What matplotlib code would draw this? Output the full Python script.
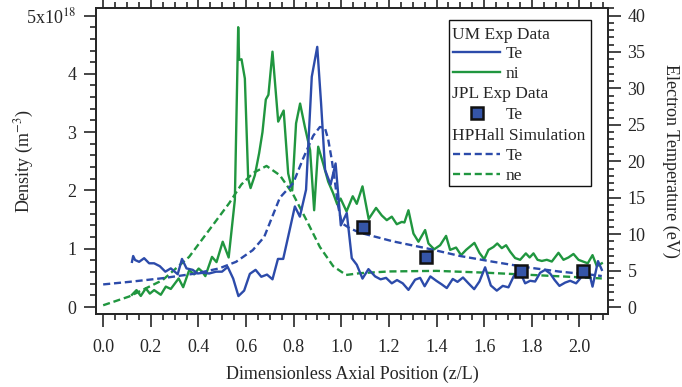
import matplotlib
matplotlib.use("Agg")
import matplotlib.pyplot as plt
from matplotlib.lines import Line2D
from matplotlib.patches import Rectangle
from matplotlib.ticker import MultipleLocator, FuncFormatter

plt.rcParams['font.family'] = ['Liberation Serif', 'DejaVu Serif']
plt.rcParams['mathtext.fontset'] = 'stix'

# UM experimental data: electron temperature (eV)
um_te_x = [0.121, 0.126, 0.134, 0.151, 0.172, 0.193, 0.214, 0.238, 0.261, 0.284,
           0.313, 0.331, 0.350, 0.376, 0.397, 0.419, 0.445, 0.474, 0.499, 0.523,
           0.546, 0.568, 0.592, 0.616, 0.640, 0.664, 0.688, 0.711, 0.734, 0.756,
           0.782, 0.805, 0.826, 0.852, 0.876, 0.899, 0.915, 0.932, 0.955, 0.976,
           0.998, 1.023, 1.044, 1.065, 1.089, 1.114, 1.142, 1.165, 1.188, 1.212,
           1.234, 1.258, 1.282, 1.310, 1.331, 1.350, 1.374, 1.399, 1.422, 1.443,
           1.468, 1.488, 1.511, 1.534, 1.558, 1.580, 1.604, 1.628, 1.653, 1.678,
           1.702, 1.723, 1.745, 1.772, 1.793, 1.814, 1.835, 1.856, 1.877, 1.896,
           1.916, 1.940, 1.961, 1.986, 2.003, 2.017, 2.035, 2.055, 2.078, 2.094]
um_te = [6.2, 7.0, 6.45, 6.2, 6.7, 6.0, 6.0, 5.6, 4.85, 5.3,
         4.5, 6.6, 5.3, 5.1, 4.6, 4.7, 4.6, 4.85, 4.85, 5.5,
         3.9, 1.5, 2.25, 4.55, 5.1, 4.15, 4.45, 3.8, 6.6, 6.6,
         10.4, 13.8, 12.4, 16.1, 31.6, 35.7, 28.0, 18.8, 16.8, 19.7,
         11.2, 12.9, 6.7, 5.8, 3.9, 5.2, 4.2, 3.8, 4.0, 3.25,
         3.7, 3.25, 2.35, 3.75, 4.0, 2.85, 4.2, 3.6, 3.1, 2.6,
         3.85, 3.45, 4.05, 3.25, 2.45, 3.5, 5.45, 2.95, 2.25, 2.9,
         2.7, 4.15, 5.2, 3.25, 3.6, 3.5, 4.7, 5.1, 4.6, 3.7,
         2.9, 3.35, 3.6, 3.25, 3.9, 4.9, 5.5, 2.8, 6.3, 5.1]

# UM experimental data: ion density (1e18 m^-3)
um_ni_x = [0.121, 0.140, 0.158, 0.179, 0.196, 0.214, 0.242, 0.263, 0.284, 0.317,
           0.336, 0.361, 0.382, 0.401, 0.415, 0.429, 0.457, 0.476, 0.502, 0.527,
           0.553, 0.567, 0.571, 0.581, 0.595, 0.609, 0.619, 0.637, 0.655, 0.669,
           0.683, 0.694, 0.711, 0.735, 0.758, 0.777, 0.794, 0.810, 0.827, 0.847,
           0.869, 0.886, 0.903, 0.924, 0.945, 0.966, 0.983, 0.997, 1.022, 1.048,
           1.065, 1.089, 1.115, 1.146, 1.170, 1.191, 1.212, 1.233, 1.254, 1.265,
           1.282, 1.303, 1.324, 1.352, 1.366, 1.390, 1.415, 1.440, 1.457, 1.482,
           1.503, 1.524, 1.559, 1.580, 1.600, 1.618, 1.639, 1.655, 1.674, 1.692,
           1.709, 1.730, 1.751, 1.775, 1.791, 1.807, 1.824, 1.842, 1.863, 1.884,
           1.912, 1.933, 1.954, 1.975, 1.996, 2.015, 2.035, 2.055, 2.073, 2.094]
um_ni = [0.21, 0.29, 0.19, 0.32, 0.23, 0.29, 0.21, 0.35, 0.31, 0.49,
         0.34, 0.63, 0.56, 0.66, 0.61, 0.53, 0.86, 0.77, 1.12, 0.85,
         1.84, 4.80, 4.24, 4.25, 3.92, 2.20, 2.04, 2.26, 2.64, 3.00,
         3.56, 3.64, 4.38, 3.18, 3.37, 2.29, 2.00, 3.15, 3.49, 3.09,
         2.69, 1.66, 2.75, 2.46, 2.15, 1.95, 1.76, 1.86, 1.64, 1.90,
         1.77, 2.07, 1.51, 1.70, 1.57, 1.49, 1.55, 1.42, 1.46, 1.45,
         1.66, 1.26, 1.12, 1.32, 1.09, 0.99, 1.06, 1.22, 0.98, 1.02,
         0.89, 0.98, 1.10, 0.93, 0.82, 0.98, 1.03, 1.09, 1.01, 1.06,
         0.95, 0.84, 0.81, 0.92, 0.85, 0.92, 0.81, 0.79, 0.81, 0.78,
         0.93, 0.81, 0.85, 0.91, 0.81, 0.78, 0.75, 0.89, 0.70, 0.75]

# JPL experimental data: electron temperature (eV)
jpl_x = [1.092, 1.356, 1.754, 2.017]
jpl_te = [10.95, 6.9, 5.0, 4.95]

# HPHall simulation: electron temperature (eV)
sim_te_x = [0.0, 0.109, 0.249, 0.389, 0.487, 0.558, 0.628, 0.676, 0.742, 0.798,
            0.840, 0.882, 0.910, 0.931, 0.945, 0.960, 0.974, 0.987, 1.002, 1.036,
            1.078, 1.218, 1.359, 1.499, 1.639, 1.779, 1.919, 2.059, 2.094]
sim_te = [3.1, 3.45, 3.95, 4.6, 5.3, 6.2, 7.8, 9.6, 15.0, 17.0,
          20.4, 23.5, 24.7, 24.6, 23.0, 20.2, 17.0, 13.8, 11.5, 10.8,
          10.2, 9.0, 8.05, 7.0, 6.2, 5.45, 4.85, 4.4, 4.25]

# HPHall simulation: electron density (1e18 m^-3)
sim_ne_x = [0.0, 0.109, 0.249, 0.361, 0.445, 0.529, 0.580, 0.630, 0.686, 0.742,
            0.798, 0.855, 0.910, 0.966, 1.020, 1.078, 1.200, 1.400, 1.600, 1.800,
            2.000, 2.094]
sim_ne = [0.03, 0.18, 0.46, 0.86, 1.32, 1.78, 2.10, 2.30, 2.42, 2.26,
          1.93, 1.48, 1.03, 0.70, 0.55, 0.58, 0.61, 0.62, 0.59, 0.55,
          0.51, 0.49]

BLUE = '#2C4BAA'
GREEN = '#20963F'
INK = '#262626'
FS = 13
DASH = (0, (3.0, 1.6))

fig = plt.figure(figsize=(6.82, 3.87), dpi=100)
ax = fig.add_axes([0.1408, 0.1886, 0.7507, 0.7907])
ax2 = ax.twinx()

ax.plot(um_ni_x, um_ni, color=GREEN, lw=1.7, zorder=2)
ax.plot(sim_ne_x, sim_ne, color=GREEN, lw=1.7, ls=DASH, zorder=2)
ax2.plot(sim_te_x, sim_te, color=BLUE, lw=1.7, ls=DASH, zorder=2)
ax2.plot(um_te_x, um_te, color=BLUE, lw=1.7, zorder=3)
ax2.plot(jpl_x, jpl_te, ls='none', marker='s', ms=8.5, mfc='#3555A8',
         mec='#111111', mew=1.8, zorder=4)

ax.set_xlim(-0.03, 2.12)
ax.set_ylim(-0.12, 5.129)
ax2.set_ylim(-0.96, 41.03)

ax.xaxis.set_major_locator(MultipleLocator(0.2))
ax.xaxis.set_minor_locator(MultipleLocator(0.05))
ax.xaxis.set_major_formatter(FuncFormatter(lambda v, p: '%.1f' % v))
ax.yaxis.set_major_locator(MultipleLocator(1))
ax.yaxis.set_minor_locator(MultipleLocator(0.2))
ax.yaxis.set_major_formatter(FuncFormatter(
    lambda v, p: '5x10$^{18}$' if abs(v - 5) < 1e-6 else '%d' % round(v)))
ax2.yaxis.set_major_locator(MultipleLocator(5))
ax2.yaxis.set_minor_locator(MultipleLocator(1))

for a in (ax, ax2):
    for s in a.spines.values():
        s.set_color(INK)
        s.set_linewidth(1.3)
ax.tick_params(which='both', direction='out', color=INK, width=1.2,
               labelsize=FS, labelcolor=INK, top=True)
ax.tick_params(axis='x', pad=9)
ax.tick_params(axis='y', pad=5)
ax.tick_params(which='major', length=9)
ax.tick_params(which='minor', length=4.5)
ax2.tick_params(which='both', direction='out', color=INK, width=1.2,
                labelsize=FS, labelcolor=INK, pad=5)
ax2.tick_params(which='major', length=9)
ax2.tick_params(which='minor', length=4.5)

ax.set_xlabel('Dimensionless Axial Position (z/L)', fontsize=FS, color=INK, labelpad=7)
ax.set_ylabel('Density (m$^{-3}$)', fontsize=FS, color=INK)
ax.yaxis.set_label_coords(-0.118, 0.5)
ax2.set_ylabel('Electron Temperature (eV)', fontsize=FS, color=INK,
               rotation=270, va='center')
ax2.yaxis.set_label_coords(1.123, 0.5)


# Grouped legend drawn in axes coordinates
def fx(px):
    return (px - 96) / 512.0


def fy(py):
    return (314 - py) / 306.0


tr = ax2.transAxes
ax2.add_patch(Rectangle((fx(449), fy(186)), fx(591) - fx(449), fy(20) - fy(186),
                        transform=tr, facecolor='white', edgecolor='#111111',
                        lw=1.0, zorder=10))
rows = [
    ('UM Exp Data', None, 32.7),
    ('Te', dict(color=BLUE, lw=1.7), 52.3),
    ('ni', dict(color=GREEN, lw=1.7), 71.7),
    ('JPL Exp Data', None, 91.7),
    ('Te', 'marker', 112.7),
    ('HPHall Simulation', None, 134.3),
    ('Te', dict(color=BLUE, lw=1.7, ls=DASH), 154.0),
    ('ne', dict(color=GREEN, lw=1.7, ls=DASH), 174.0),
]
for label, style, py in rows:
    if style is None:
        ax2.text(fx(452), fy(py), label, transform=tr, fontsize=FS - 0.5, color=INK,
                 va='center_baseline', ha='left', zorder=11)
        continue
    if style == 'marker':
        ax2.add_line(Line2D([fx(476.7)], [fy(py)], transform=tr, ls='none',
                            marker='s', ms=8.5, mfc='#3555A8', mec='#111111',
                            mew=1.8, zorder=11))
    else:
        ax2.add_line(Line2D([fx(453), fx(500)], [fy(py), fy(py)], transform=tr,
                            zorder=11, **style))
    ax2.text(fx(506), fy(py), label, transform=tr, fontsize=FS - 0.5, color=INK,
             va='center_baseline', ha='left', zorder=11)

fig.savefig('out.png', dpi=100)
